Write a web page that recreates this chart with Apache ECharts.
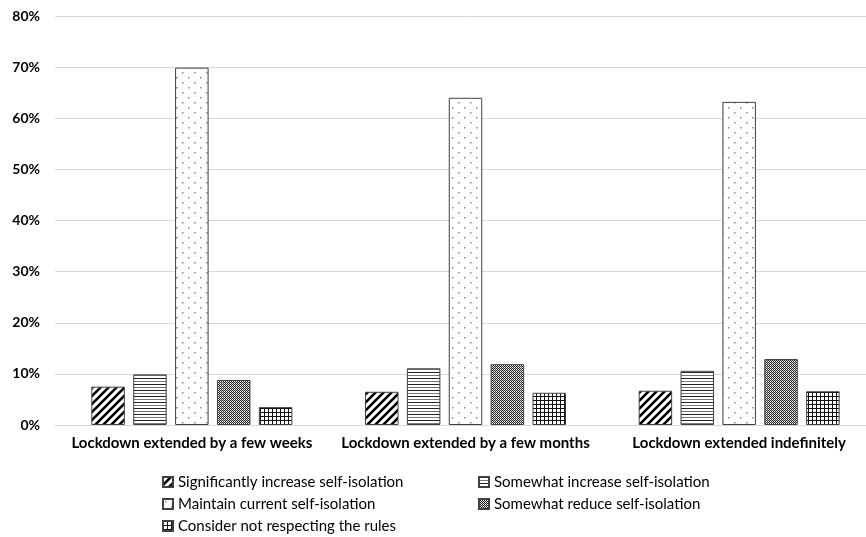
<!DOCTYPE html>
<html>
<head>
<meta charset="utf-8">
<script src="https://cdn.jsdelivr.net/npm/echarts@6/dist/echarts.min.js"></script>
<style>
html,body{margin:0;padding:0;background:#fff;overflow:hidden;}
#main{width:876px;height:537px;}
</style>
</head>
<body>
<div id="main"></div>
<script>
const categories = ['Lockdown extended by a few weeks', 'Lockdown extended by a few months', 'Lockdown extended indefinitely'];
const seriesNames = ['Significantly increase self-isolation', 'Somewhat increase self-isolation', 'Maintain current self-isolation', 'Somewhat reduce self-isolation', 'Consider not respecting the rules'];
const sigIncrease = [7.5, 6.5, 6.7];
const someIncrease = [9.9, 11.1, 10.6];
const maintain = [69.9, 64.0, 63.2];
const someReduce = [8.8, 11.9, 12.9];
const notRespect = [3.5, 6.3, 6.6];
const yTicks = [0, 10, 20, 30, 40, 50, 60, 70, 80];

function pat(w, h, draw) {
  const c = document.createElement('canvas');
  c.width = w; c.height = h;
  const ctx = c.getContext('2d');
  ctx.fillStyle = '#fff'; ctx.fillRect(0, 0, w, h);
  draw(ctx);
  return { image: c, repeat: 'repeat' };
}
const patterns = [
  pat(8, 8, ctx => {
    ctx.strokeStyle = '#000'; ctx.lineWidth = 2.6;
    ctx.beginPath();
    ctx.moveTo(-4, 4); ctx.lineTo(4, -4);
    ctx.moveTo(0, 8); ctx.lineTo(8, 0);
    ctx.moveTo(4, 12); ctx.lineTo(12, 4);
    ctx.stroke();
  }),
  pat(4, 6, ctx => {
    ctx.fillStyle = '#222'; ctx.fillRect(0, 0, 4, 1);
    ctx.fillStyle = '#777'; ctx.fillRect(0, 3, 4, 1);
  }),
  pat(12, 10, ctx => {
    ctx.fillStyle = '#888';
    ctx.fillRect(2, 2, 1.5, 1.5);
    ctx.fillRect(8, 7, 1.5, 1.5);
  }),
  pat(2, 2, ctx => {
    ctx.fillStyle = '#2a2a2a';
    ctx.fillRect(0, 0, 1, 1);
    ctx.fillRect(1, 1, 1, 1);
    ctx.fillStyle = '#bbb';
    ctx.fillRect(1, 0, 1, 1);
  }),
  pat(4, 4, ctx => {
    ctx.fillStyle = '#111';
    ctx.fillRect(0, 0, 4, 1);
    ctx.fillRect(0, 0, 1, 4);
  })
];

const values = [sigIncrease, someIncrease, maintain, someReduce, notRespect];
const fontFam = 'Lato, "Noto Sans", sans-serif';

const chart = echarts.init(document.getElementById('main'), null, { renderer: 'canvas' });
const legendCommon = {
  orient: 'vertical', top: 474, padding: 0,
  icon: 'rect', itemWidth: 10, itemHeight: 10, itemGap: 6,
  textStyle: { fontSize: 15, fontFamily: fontFam, color: '#000', lineHeight: 16 }
};
chart.setOption({
  animation: false,
  backgroundColor: '#fff',
  grid: { left: 55, right: 0, top: 16, bottom: 112 },
  xAxis: {
    type: 'category',
    data: categories,
    axisLine: { lineStyle: { color: '#d9d9d9', width: 1 } },
    axisTick: { show: false },
    axisLabel: { color: '#000', fontWeight: 'bold', fontSize: 15, fontFamily: fontFam, margin: 11, interval: 0 }
  },
  yAxis: {
    type: 'value',
    min: yTicks[0], max: yTicks[yTicks.length - 1], interval: 10,
    axisLine: { show: false },
    axisTick: { show: false },
    splitLine: { lineStyle: { color: '#d9d9d9', width: 1 } },
    axisLabel: { color: '#000', fontWeight: 'bold', fontSize: 14, fontFamily: fontFam, margin: 15, formatter: '{value}%' }
  },
  legend: [
    Object.assign({ data: [seriesNames[0], seriesNames[2], seriesNames[4]], left: 162 }, legendCommon),
    Object.assign({ data: [seriesNames[1], seriesNames[3]], left: 478 }, legendCommon)
  ],
  series: seriesNames.map((name, i) => ({
    name: name,
    type: 'bar',
    data: values[i],
    barWidth: 33.5,
    barGap: '25%',
    barCategoryGap: '26%',
    itemStyle: { color: patterns[i], borderColor: '#404040', borderWidth: 1 }
  }))
});
</script>
</body>
</html>
